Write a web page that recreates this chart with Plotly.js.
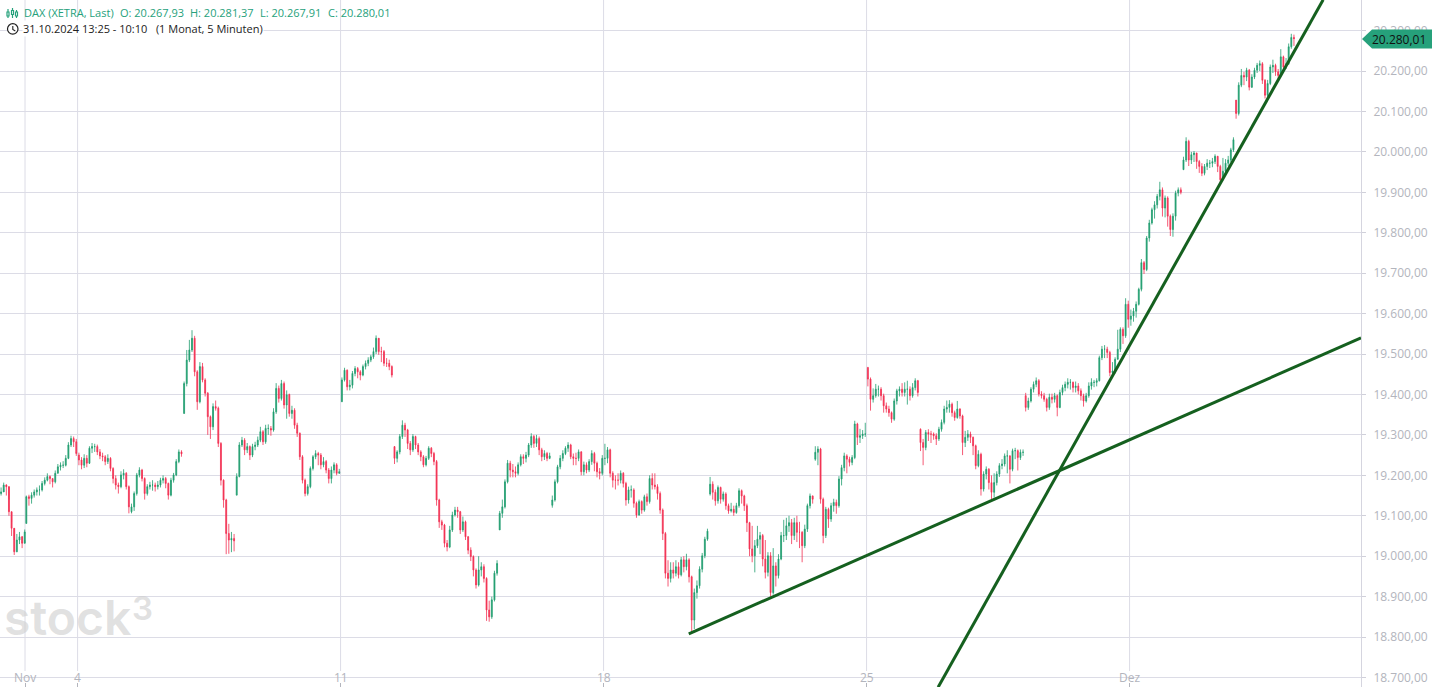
<!DOCTYPE html>
<html><head><meta charset="utf-8">
<script src="https://cdn.plot.ly/plotly-3.0.1.min.js"></script>
<style>html,body{margin:0;padding:0;background:#fff;overflow:hidden}#c{width:1432px;height:687px}</style>
</head><body><div id="c"></div><script>
// each bar: [close, high, low]; open is the previous close
const oct31=[[19159,19170,19150],[19176,19182,19165],[19172,19178,19150],[19110,19140,19100],[19069,19085,19050],[19011,19040,19003],[19040,19055,19010],[19048,19060,19030],[19032,19050,19020],[19060,19066,19040]];
const nov01=[[19147,19150,19081],[19143,19152,19125],[19151,19158,19130],[19159,19165,19145],[19164,19170,19150],[19164,19175,19150],[19180,19186,19160],[19188,19195,19175],[19197,19205,19185],[19192,19200,19178],[19184,19192,19170],[19205,19212,19180],[19221,19228,19205],[19225,19232,19212],[19225,19235,19218],[19242,19250,19222],[19275,19282,19240],[19291,19298,19270],[19283,19296,19270],[19254,19290,19248]];
const nov04=[[19238,19256,19225],[19225,19245,19215],[19242,19252,19218],[19230,19250,19220],[19267,19272,19228],[19271,19280,19255],[19271,19278,19258],[19258,19276,19250],[19248,19265,19240],[19246,19256,19235],[19234,19250,19225],[19242,19252,19228],[19217,19245,19210],[19192,19220,19180],[19176,19200,19165],[19172,19182,19155],[19201,19210,19168],[19205,19215,19190],[19172,19208,19165],[19122,19175,19106]];
const nov05=[[19122,19130,19106],[19155,19160,19112],[19201,19206,19150],[19213,19220,19195],[19192,19216,19185],[19155,19195,19140],[19172,19178,19150],[19176,19184,19165],[19176,19188,19162],[19172,19182,19160],[19176,19186,19165],[19188,19194,19170],[19192,19200,19180],[19180,19196,19168],[19151,19182,19140],[19188,19194,19148],[19201,19206,19182],[19234,19240,19198],[19258,19264,19230],[19253,19262,19246]];
const nov06=[[19427,19432,19353],[19485,19510,19420],[19510,19535,19480],[19539,19559,19505],[19456,19545,19445],[19382,19460,19362],[19469,19480,19378],[19436,19478,19430],[19403,19440,19395],[19345,19406,19300],[19320,19348,19290],[19370,19378,19312],[19366,19385,19360],[19279,19370,19270],[19188,19282,19175],[19139,19190,19120],[19056,19142,19005],[19040,19080,19006],[19044,19060,19010],[19038,19055,19012]];
const nov07=[[19197,19205,19151],[19275,19282,19195],[19287,19295,19270],[19263,19292,19250],[19271,19280,19255],[19250,19274,19238],[19271,19278,19245],[19275,19283,19262],[19287,19296,19270],[19308,19320,19282],[19283,19312,19275],[19316,19325,19278],[19316,19326,19300],[19312,19322,19298],[19357,19366,19308],[19415,19428,19352],[19390,19422,19380],[19427,19436,19385],[19374,19432,19365],[19399,19410,19340]];
const nov08=[[19353,19402,19345],[19361,19372,19340],[19324,19366,19315],[19304,19330,19295],[19246,19306,19238],[19188,19250,19180],[19155,19192,19148],[19172,19178,19150],[19217,19222,19168],[19246,19250,19212],[19254,19262,19240],[19250,19258,19225],[19226,19255,19215],[19234,19245,19220],[19213,19238,19205],[19192,19218,19180],[19213,19222,19180],[19226,19232,19205],[19205,19230,19200],[19209,19216,19204]];
const nov11=[[19436,19442,19382],[19460,19466,19432],[19419,19462,19410],[19423,19436,19410],[19452,19458,19415],[19464,19470,19445],[19456,19468,19440],[19448,19460,19435],[19469,19474,19445],[19477,19484,19462],[19485,19492,19470],[19493,19498,19480],[19506,19516,19488],[19539,19546,19500],[19506,19535,19498],[19506,19518,19480],[19477,19510,19470],[19477,19490,19468],[19469,19486,19460],[19448,19472,19442]];
const nov12=[[19242,19272,19228],[19258,19262,19232],[19296,19302,19252],[19324,19336,19290],[19312,19330,19295],[19279,19315,19265],[19263,19285,19250],[19296,19302,19258],[19275,19298,19265],[19258,19280,19250],[19246,19262,19235],[19226,19250,19220],[19242,19248,19222],[19267,19272,19238],[19254,19270,19245],[19234,19258,19225],[19139,19238,19125],[19085,19142,19070],[19077,19090,19065],[19032,19080,19022]];
const nov13=[[19023,19040,19012],[19065,19075,19020],[19102,19110,19060],[19114,19122,19098],[19110,19122,19095],[19065,19112,19055],[19085,19098,19060],[19048,19088,19040],[19015,19050,19005],[18999,19022,18988],[18966,19002,18950],[18929,18970,18920],[18966,19000,18925],[18974,18985,18950],[18945,18980,18935],[18867,18948,18840],[18850,18890,18838],[18892,18900,18845],[18958,18964,18888],[18982,18990,18952]];
const nov14=[[19106,19112,19065],[19122,19140,19095],[19184,19190,19118],[19230,19238,19180],[19213,19236,19195],[19209,19228,19195],[19205,19222,19195],[19226,19232,19200],[19246,19252,19222],[19242,19252,19228],[19250,19258,19232],[19275,19280,19245],[19296,19304,19268],[19279,19300,19268],[19291,19300,19270],[19263,19296,19250],[19246,19268,19235],[19254,19262,19238],[19242,19258,19235],[19248,19256,19240]];
const nov15=[[19139,19150,19120],[19184,19190,19135],[19221,19226,19180],[19242,19250,19215],[19254,19262,19235],[19267,19272,19250],[19275,19282,19258],[19246,19278,19240],[19242,19254,19225],[19242,19256,19225],[19258,19264,19235],[19209,19260,19200],[19226,19234,19200],[19213,19232,19205],[19234,19240,19208],[19254,19262,19226],[19230,19258,19210],[19209,19234,19195],[19205,19218,19190],[19242,19250,19200]];
const nov18=[[19242,19278,19225],[19263,19270,19230],[19205,19266,19195],[19188,19210,19170],[19188,19200,19165],[19188,19205,19175],[19205,19212,19180],[19180,19208,19170],[19139,19184,19125],[19164,19172,19130],[19164,19175,19145],[19131,19168,19120],[19102,19135,19095],[19135,19140,19100],[19114,19138,19105],[19147,19152,19110],[19135,19155,19125],[19192,19200,19130],[19176,19205,19165],[19172,19205,19165]];
const nov19=[[19155,19178,19140],[19114,19160,19105],[19056,19118,19040],[18958,19060,18945],[18945,18990,18925],[18966,18985,18935],[18958,18985,18945],[18974,18990,18950],[18954,18985,18945],[18991,18998,18950],[18974,19000,18960],[18991,19006,18965],[18949,18995,18935],[18842,18952,18810],[18910,18920,18820],[18927,18940,18895],[18968,18975,18920],[19001,19008,18960],[19042,19048,18995],[19062,19068,19038]];
const nov20=[[19178,19196,19150],[19158,19185,19140],[19137,19165,19125],[19170,19175,19130],[19141,19172,19130],[19154,19160,19135],[19125,19158,19115],[19112,19130,19105],[19116,19132,19108],[19108,19125,19100],[19125,19132,19105],[19162,19168,19120],[19149,19165,19130],[19125,19152,19112],[19083,19130,19060],[19018,19085,19000],[19001,19075,18985],[19026,19040,18960],[19042,19075,19020],[19051,19060,19005]];
const nov21=[[18993,19055,18975],[18960,19040,18945],[19001,19010,18950],[18910,19010,18900],[18976,19020,18905],[18952,18985,18925],[18993,19005,18945],[19051,19060,18990],[19051,19090,19035],[19075,19095,19040],[19083,19100,19060],[19051,19092,19030],[19083,19095,19040],[19059,19100,19035],[19059,19085,19020],[19026,19062,18985],[19067,19078,19020],[19125,19130,19060],[19149,19155,19118],[19141,19150,19130]];
const nov22=[[19257,19272,19236],[19265,19272,19225],[19141,19268,19130],[19051,19145,19032],[19116,19122,19045],[19092,19120,19070],[19125,19132,19085],[19133,19142,19110],[19125,19140,19105],[19191,19198,19120],[19219,19226,19175],[19248,19256,19210],[19240,19252,19205],[19232,19246,19222],[19244,19250,19225],[19327,19335,19240],[19294,19330,19275],[19298,19315,19280],[19302,19312,19290],[19302,19330,19295]];
const nov25=[[19438,19467,19420],[19388,19442,19360],[19397,19415,19380],[19413,19426,19392],[19413,19422,19395],[19397,19418,19385],[19372,19402,19355],[19364,19380,19355],[19355,19372,19345],[19339,19358,19330],[19384,19390,19335],[19409,19414,19375],[19413,19420,19395],[19405,19428,19395],[19413,19430,19395],[19413,19434,19375],[19397,19420,19385],[19417,19428,19392],[19434,19440,19410],[19405,19436,19395]];
const nov26=[[19281,19316,19260],[19269,19290,19225],[19306,19312,19262],[19302,19314,19285],[19302,19310,19280],[19298,19306,19288],[19290,19304,19275],[19314,19320,19285],[19331,19338,19308],[19364,19372,19326],[19368,19385,19355],[19376,19386,19355],[19355,19380,19345],[19343,19360,19335],[19364,19384,19340],[19347,19366,19340],[19281,19350,19250],[19294,19310,19270],[19302,19312,19285],[19294,19308,19280]];
const nov27=[[19273,19296,19250],[19224,19276,19215],[19252,19262,19220],[19166,19256,19150],[19203,19210,19160],[19215,19222,19190],[19182,19218,19165],[19158,19200,19140],[19182,19205,19145],[19203,19210,19175],[19224,19230,19196],[19228,19240,19215],[19248,19254,19222],[19248,19262,19205],[19215,19250,19180],[19261,19266,19210],[19261,19268,19240],[19244,19264,19212],[19257,19264,19238],[19257,19264,19248]];
const nov28=[[19368,19404,19358],[19384,19392,19362],[19413,19418,19380],[19425,19432,19405],[19434,19442,19418],[19401,19438,19395],[19397,19408,19390],[19388,19404,19382],[19368,19392,19358],[19393,19402,19362],[19388,19402,19378],[19397,19404,19380],[19368,19400,19346],[19405,19412,19366],[19417,19424,19398],[19425,19432,19408],[19430,19440,19415],[19430,19438,19412],[19417,19432,19405],[19421,19432,19405]];
const nov29=[[19409,19428,19400],[19397,19415,19385],[19384,19402,19370],[19397,19404,19380],[19421,19430,19392],[19430,19440,19412],[19430,19436,19418],[19434,19440,19420],[19491,19496,19432],[19512,19520,19485],[19512,19522,19490],[19504,19518,19490],[19454,19508,19445],[19458,19480,19445],[19487,19492,19452],[19512,19560,19490],[19561,19566,19505],[19545,19566,19525],[19623,19638,19540],[19586,19632,19565]];
const dez02=[[19594,19610,19570],[19606,19614,19580],[19623,19630,19590],[19660,19664,19620],[19726,19735,19655],[19709,19730,19698],[19787,19792,19705],[19824,19832,19778],[19857,19862,19820],[19869,19878,19835],[19890,19896,19860],[19906,19926,19880],[19861,19912,19840],[19886,19892,19838],[19841,19890,19815],[19808,19845,19792],[19841,19848,19790],[19898,19904,19830],[19906,19912,19890],[19900,19912,19895]];
const dez03=[[19980,19988,19956],[20026,20036,19975],[19980,20030,19965],[19993,20000,19970],[19997,20002,19975],[19976,19998,19958],[19964,19980,19948],[19947,19972,19940],[19964,19970,19942],[19972,19982,19955],[19972,19980,19960],[19976,19985,19962],[19989,19994,19970],[19964,19990,19950],[19931,19968,19924],[19952,19985,19930],[19972,19982,19945],[19980,19990,19965],[20005,20010,19975],[20030,20036,20000]];
const dez04=[[20095,20128,20082],[20165,20172,20090],[20189,20205,20160],[20185,20198,20165],[20202,20208,20175],[20160,20205,20152],[20185,20192,20158],[20202,20208,20180],[20214,20220,20195],[20218,20226,20200],[20177,20222,20168],[20140,20180,20132],[20169,20178,20136],[20210,20216,20165],[20214,20228,20195],[20198,20218,20188],[20189,20205,20178],[20235,20254,20185],[20210,20238,20198],[20218,20232,20205]];
const dez05=[[20260,20268,20215],[20283,20292,20255],[20280.01,20290,20262]];
const sessions=[oct31,nov01,nov04,nov05,nov06,nov07,nov08,nov11,nov12,nov13,nov14,nov15,nov18,nov19,nov20,nov21,nov22,nov25,nov26,nov27,nov28,nov29,dez02,dez03,dez04,dez05];
const sessionStart=[-0.48,0,1,2,3,4,5,6,7,8,9,10,11,12,13,14,15,16,17,18,19,20,21,22,23,24];
const sessionOpen=[19155,19081,19250,19110,19353,19151,19400,19382,19271,19032,19065,19126,19242,19172,19154,19051,19240,19467,19314,19294,19397,19421,19586,19956,20128,20218];
const barStep=0.05;
const tickDays=[0,1,6,11,16,21];
const tickLabels=['Nov','4','11','18','25','Dez'];
const supportX=[12.62,25.4], supportY=[18808,19540];
const steepX=[17.36,24.68], steepY=[18676,20376];
const yTicks=[18700,18800,18900,19000,19100,19200,19300,19400,19500,19600,19700,19800,19900,20000,20100,20200,20300];
const lastPrice=20280.01;

const x=[],o=[],h=[],l=[],c=[];
sessions.forEach((bars,s)=>{
  let prev=sessionOpen[s];
  bars.forEach((b,i)=>{
    x.push(sessionStart[s]+(i+0.5)*barStep);
    o.push(prev);c.push(b[0]);h.push(b[1]);l.push(b[2]);
    prev=b[0];
  });
});
const green='#1f9d6f', red='#f23052', grid='#dcdce6', axisTxt='#b3b5bd', head='#26a17b';
const px=v=>v/1361, py=v=>1-v/687;
const traces=[
 {type:'candlestick',x:x,open:o,high:h,low:l,close:c,whiskerwidth:0,
  increasing:{line:{color:green,width:0.8},fillcolor:green},
  decreasing:{line:{color:red,width:0.8},fillcolor:red},hoverinfo:'skip',showlegend:false},
 {type:'scatter',mode:'lines',x:supportX,y:supportY,line:{color:'#15601f',width:3},hoverinfo:'skip',showlegend:false},
 {type:'scatter',mode:'lines',x:steepX,y:steepY,line:{color:'#15601f',width:3},hoverinfo:'skip',showlegend:false}
];
const shape=(path,o2)=>Object.assign({type:'path',xref:'paper',yref:'paper',path,layer:'above'},o2);
const P=(pts)=>'M'+pts.map(p=>px(p[0])+','+py(p[1])).join(' L');
const icon={color:head,width:1.2};
const vgrid=tickDays.map(d=>({type:'line',xref:'x',yref:'paper',x0:d,x1:d,y0:py(671),y1:1,layer:'below',line:{color:grid,width:1}}));
const shapes=vgrid.concat([
 shape(P([[1362,39],[1372,29.5],[1432,29.5],[1432,48.5],[1372,48.5]])+' Z',{fillcolor:'#26a17b',line:{width:0}}),
 {type:'circle',xref:'paper',yref:'paper',x0:px(7.5),x1:px(18),y0:py(23.7),y1:py(34.2),line:{color:'#222',width:1.2},layer:'above',fillcolor:'#fff'},
 shape(P([[12.8,26],[12.8,29.5],[15.3,31]]),{line:{color:'#222',width:1.1}}),
 shape(P([[8,9],[8,18]]),{line:icon}),shape(P([[12.5,8],[12.5,18]]),{line:icon}),shape(P([[16.5,10],[16.5,18]]),{line:icon}),
 shape(P([[7,12],[9,12],[9,16],[7,16]])+' Z',{line:icon,fillcolor:'#fff'}),
 shape(P([[11.5,10.5],[13.5,10.5],[13.5,14.5],[11.5,14.5]])+' Z',{line:icon,fillcolor:'#fff'}),
 shape(P([[15.5,12],[17.5,12],[17.5,16],[15.5,16]])+' Z',{line:icon,fillcolor:'#fff'})
]);
const ann=(t,xp,yp,size,color,extra)=>Object.assign({text:t,xref:'paper',yref:'paper',x:px(xp),y:py(yp),xanchor:'left',yanchor:'middle',showarrow:false,font:{family:'"Open Sans",sans-serif',size,color},borderpad:0},extra||{});
const wm={family:'Inter,sans-serif',weight:600,color:'rgba(205,205,205,0.62)'};
const annotations=[
 ann('stock',3,617,48,'',{font:Object.assign({size:48},wm)}),
 ann('3',131,608,33,'',{font:Object.assign({size:33},wm)}),
 ann('DAX (XETRA, Last)',23,13,11,head),
 ann('O: 20.267,93',119,13,11,head),
 ann('H: 20.281,37',189,13,11,head),
 ann('L: 20.267,91',259,13,11,head),
 ann('C: 20.280,01',327,13,11,head),
 ann('31.10.2024 13:25 - 10:10&nbsp;&nbsp;&nbsp;(1 Monat, 5 Minuten)',22,29,11,'#222',{bgcolor:'#fff'}),
 ann(lastPrice.toLocaleString('de-DE',{minimumFractionDigits:2}),1371,39.5,12,'#111')
].concat(tickDays.map((d,i)=>({text:tickLabels[i],xref:'x',yref:'paper',x:d,y:py(677),xanchor:'center',yanchor:'middle',showarrow:false,borderpad:0,font:{family:'"Open Sans",sans-serif',size:12,color:axisTxt}})));
const layout={
 width:1432,height:687,margin:{l:0,r:71,t:0,b:0,pad:0},paper_bgcolor:'#fff',plot_bgcolor:'#fff',separators:',.',showlegend:false,boxgap:0.15,
 xaxis:{type:'linear',range:[-0.4753,25.4],tickmode:'array',tickvals:tickDays,ticktext:tickLabels.map(()=>''),showgrid:false,zeroline:false,
  ticks:'inside',ticklen:4,tickcolor:'#b3b5bd',showline:false,rangeslider:{visible:false},fixedrange:true},
 yaxis:{type:'linear',side:'right',range:[18676.5,20375.6],tickmode:'array',tickvals:yTicks,tickformat:',.2f',showgrid:true,gridcolor:grid,gridwidth:1,zeroline:false,
  ticks:'outside',ticklen:4,tickcolor:'#d0d0da',showline:true,linecolor:'#d5d5df',linewidth:1,ticklabelstandoff:5,tickfont:{family:'"Open Sans",sans-serif',size:12,color:axisTxt},fixedrange:true},
 shapes,annotations
};
Plotly.newPlot('c',traces,layout,{displayModeBar:false,staticPlot:true});
</script></body></html>
